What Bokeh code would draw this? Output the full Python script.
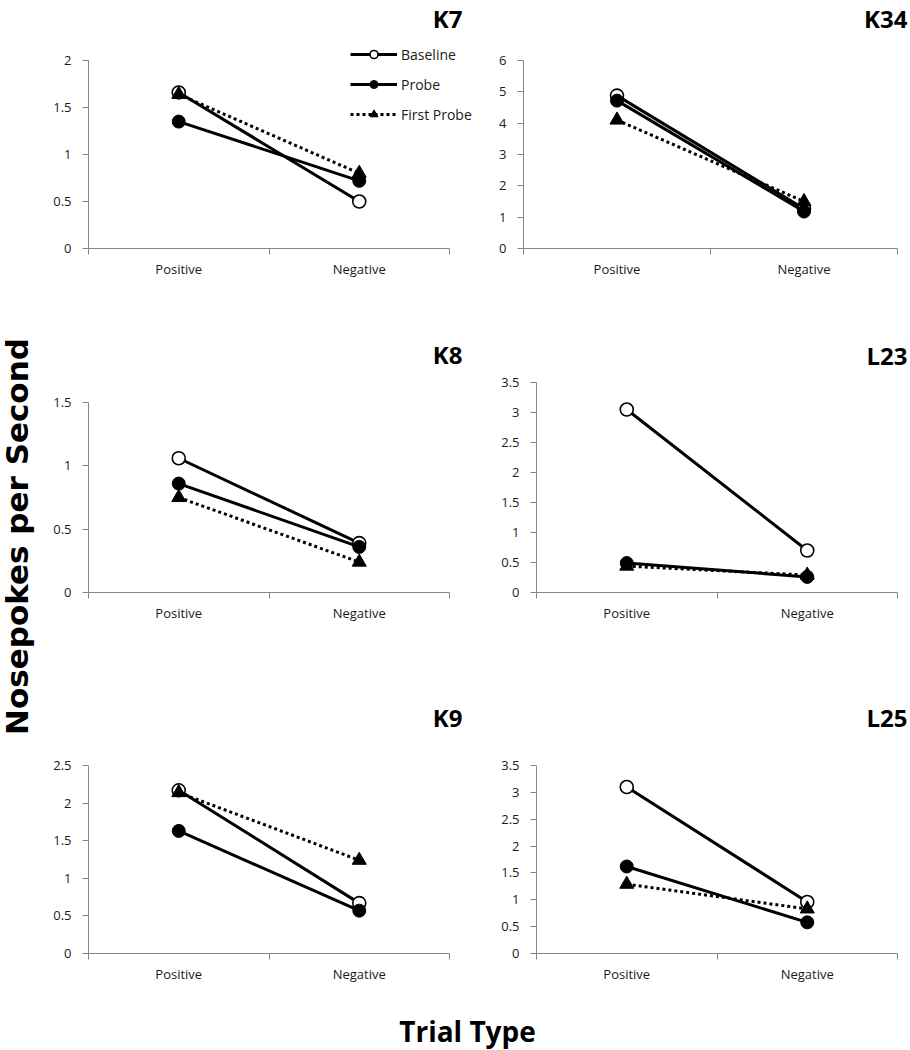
import math
from bokeh.plotting import figure
from bokeh.models import (Range1d, FixedTicker, NumeralTickFormatter, Legend,
                          LegendItem, Label)
from bokeh.layouts import row, column
from bokeh.embed import file_html
from bokeh.resources import INLINE
from bokeh.core.properties import value

# ---------------- data ----------------
categories = ["Positive", "Negative"]
series_names = ["Baseline", "Probe", "First Probe"]
panel_names = ["K7", "K34", "K8", "L23", "K9", "L25"]

k7_baseline = [1.66, 0.50]
k7_probe = [1.35, 0.72]
k7_first = [1.64, 0.80]

k34_baseline = [4.88, 1.27]
k34_probe = [4.72, 1.18]
k34_first = [4.10, 1.50]

k8_baseline = [1.06, 0.39]
k8_probe = [0.86, 0.36]
k8_first = [0.75, 0.24]

l23_baseline = [3.05, 0.70]
l23_probe = [0.49, 0.26]
l23_first = [0.44, 0.29]

k9_baseline = [2.17, 0.67]
k9_probe = [1.63, 0.57]
k9_first = [2.14, 1.24]

l25_baseline = [3.10, 0.96]
l25_probe = [1.62, 0.58]
l25_first = [1.29, 0.83]

y_max = [2, 6, 1.5, 3.5, 2.5, 3.5]
y_step = [0.5, 1, 0.5, 0.5, 0.5, 0.5]

y_title = "Nosepokes per Second"
x_title = "Trial Type"

panel_data = {
    "K7": [k7_baseline, k7_probe, k7_first],
    "K34": [k34_baseline, k34_probe, k34_first],
    "K8": [k8_baseline, k8_probe, k8_first],
    "L23": [l23_baseline, l23_probe, l23_first],
    "K9": [k9_baseline, k9_probe, k9_first],
    "L25": [l25_baseline, l25_probe, l25_first],
}

# ---------------- layout (page pixels) ----------------
YLAB_W = 48
COL_X = [48, 478]
COL_W = [430, 432]
ROW_Y = [0, 318, 680]
ROW_H = [318, 362, 310]
XLAB_H = 60
PAGE_H = 1050

# data box: left, right, top, bottom ; title: right edge, baseline
data_box = {
    "K7":  (88, 449, 60, 248),
    "K34": (523, 897, 60, 248),
    "K8":  (88, 449, 402, 592),
    "L23": (536, 897, 382, 592),
    "K9":  (88, 449, 765, 953),
    "L25": (536, 897, 765, 953),
}
title_pos = {
    "K7": (462, 18), "K34": (907, 18),
    "K8": (462, 354), "L23": (907, 355),
    "K9": (462, 717), "L25": (907, 717),
}
legend_pos = (350, 44)  # left, top of legend box (page px)

AXIS_COLOR = "#868686"
TEXT_COLOR = "#1a1a1a"
FONT = "Open Sans"

series_style = [
    dict(marker="circle", size=13, fill_color="white", line_width=1.6, dash="solid"),
    dict(marker="circle", size=13, fill_color="black", line_width=1.0, dash="solid"),
    dict(marker="triangle", size=14, fill_color="black", line_width=1.0, dash="3 3"),
]

ncat = len(categories)
xpos = [i + 0.5 for i in range(ncat)]
xbounds = [float(i) for i in range(ncat + 1)]


def make_panel(name, r, c, with_legend=False):
    idx = panel_names.index(name)
    ymax = y_max[idx]
    step = y_step[idx]
    yticks = [k * step for k in range(int(round(ymax / step)) + 1)]

    dl, dr, dt, db = data_box[name]
    fx0, fw = COL_X[c], COL_W[c]
    fy0, fh = ROW_Y[r], ROW_H[r]
    frame_w = fx0 + fw - dl
    frame_h = db - fy0
    x_end = ncat * frame_w / (dr - dl)
    y_end = ymax * frame_h / (db - dt)

    p = figure(width=fw, height=fh, output_backend="svg", toolbar_location=None,
               x_range=Range1d(0, x_end), y_range=Range1d(0, y_end),
               min_border_left=dl - fx0, min_border_top=0,
               min_border_right=0, min_border_bottom=fy0 + fh - db)
    p.outline_line_color = None
    p.grid.visible = False
    p.background_fill_color = "white"
    p.border_fill_color = "white"

    # x axis
    xa = p.xaxis[0]
    xa.bounds = (0, ncat)
    xa.ticker = FixedTicker(ticks=xpos, minor_ticks=xbounds)
    xa.major_label_overrides = {x: cat for x, cat in zip(xpos, categories)}
    xa.major_tick_line_color = None
    xa.major_tick_out = 6
    xa.major_tick_in = 0
    xa.minor_tick_line_color = AXIS_COLOR
    xa.minor_tick_out = 6
    xa.minor_tick_in = 0
    xa.axis_line_color = AXIS_COLOR
    xa.major_label_standoff = 5
    xa.major_label_text_font = FONT
    xa.major_label_text_font_size = "13px"
    xa.major_label_text_color = TEXT_COLOR

    # y axis
    ya = p.yaxis[0]
    ya.bounds = (0, ymax)
    ya.ticker = FixedTicker(ticks=yticks, minor_ticks=[])
    ya.formatter = NumeralTickFormatter(format="0.[0]")
    ya.axis_line_color = AXIS_COLOR
    ya.major_tick_line_color = AXIS_COLOR
    ya.major_tick_out = 6
    ya.major_tick_in = 0
    ya.minor_tick_line_color = None
    ya.major_label_standoff = 11
    ya.major_label_text_font = FONT
    ya.major_label_text_font_size = "13px"
    ya.major_label_text_color = TEXT_COLOR

    items = []
    for sname, vals, st in zip(series_names, panel_data[name], series_style):
        ln = p.line(x=xpos, y=vals, line_color="black", line_width=3,
                    line_dash=st["dash"])
        sc = p.scatter(x=xpos, y=vals, marker=st["marker"], size=st["size"],
                       fill_color=st["fill_color"], line_color="black",
                       line_width=st["line_width"])
        items.append(LegendItem(label=sname, renderers=[ln, sc]))

    if with_legend:
        lx, ly = legend_pos
        leg_h = 3 * 20 + 2 * 10
        leg = Legend(items=items, location=(lx - dl, db - (ly + leg_h)),
                     glyph_width=47, glyph_height=20, label_height=20,
                     spacing=10, padding=0, margin=0, label_standoff=4,
                     border_line_color=None, background_fill_alpha=0,
                     label_text_font=FONT, label_text_font_size="14px",
                     label_text_color=TEXT_COLOR)
        p.add_layout(leg)

    tx, ty = title_pos[name]
    p.add_layout(Label(x=tx - dl, y=db - ty, x_units="screen", y_units="screen",
                       text=name, text_align="right", text_baseline="alphabetic",
                       text_font=FONT, text_font_style="bold",
                       text_font_size="24px", text_color="black"))
    return p


positions = {"K7": (0, 0), "K34": (0, 1), "K8": (1, 0),
             "L23": (1, 1), "K9": (2, 0), "L25": (2, 1)}
panels = {n: make_panel(n, *positions[n], with_legend=(n == "K7")) for n in panel_names}

# big y label
ylab = figure(width=YLAB_W, height=PAGE_H, output_backend="svg", toolbar_location=None,
              x_range=Range1d(0, YLAB_W), y_range=Range1d(0, PAGE_H),
              x_axis_type=None, y_axis_type=None, min_border=0)
ylab.outline_line_color = None
ylab.grid.visible = False
ylab.text(x=[16], y=[PAGE_H - 536], text=[y_title], angle=math.pi / 2,
          text_align="center", text_baseline="middle",
          text_font=value("DejaVu Sans"), text_font_style="bold",
          text_font_size="31px", text_color="black")

# big x label
XL_W = sum(COL_W)
xlab = figure(width=XL_W, height=XLAB_H, output_backend="svg", toolbar_location=None,
              x_range=Range1d(0, XL_W), y_range=Range1d(0, XLAB_H),
              x_axis_type=None, y_axis_type=None, min_border=0)
xlab.outline_line_color = None
xlab.grid.visible = False
xlab.text(x=[467 - COL_X[0]], y=[20], text=[x_title],
          text_align="center", text_baseline="middle",
          text_font=value(FONT), text_font_style="bold",
          text_font_size="28px", text_color="black")

grid = column(
    row(panels["K7"], panels["K34"]),
    row(panels["K8"], panels["L23"]),
    row(panels["K9"], panels["L25"]),
    xlab,
)
layout = row(ylab, grid)

open("out.html", "w").write(file_html(layout, INLINE))
